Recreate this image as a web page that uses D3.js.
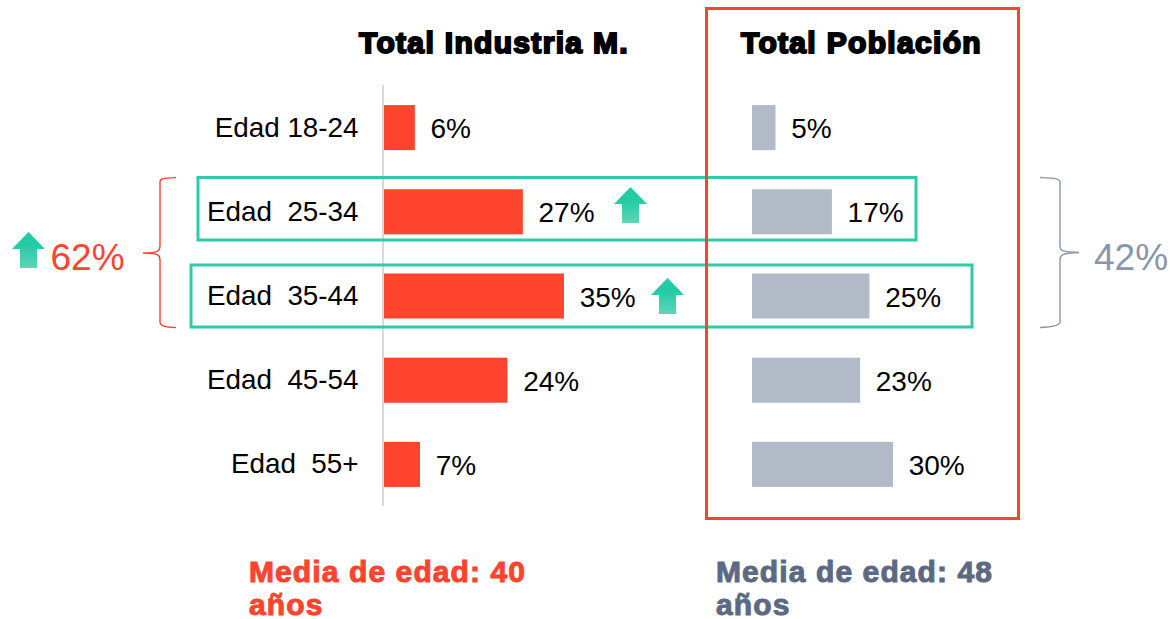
<!DOCTYPE html>
<html><head><meta charset="utf-8">
<script src="https://cdn.jsdelivr.net/npm/d3@7/dist/d3.min.js"></script>
<style>html,body{margin:0;padding:0;background:#fff;overflow:hidden}
text{font-family:"Liberation Sans",Arial,sans-serif;white-space:pre}</style></head>
<body><svg id="c" width="1170" height="619"></svg>
<script>
const categories=["Edad 18-24","Edad  25-34","Edad  35-44","Edad  45-54","Edad  55+"];
const industria=[6,27,35,24,7];
const poblacion=[5,17,25,23,30];
const titles=["Total Industria M.","Total Población"];
const RED="#ff442e",GREY="#b2bac8",GREEN="#2fcba8",SLATE="#8a95ad",DARK="#5d6983";
const svg=d3.select("#c");
const defs=svg.append("defs");
const g=defs.append("linearGradient").attr("id","up").attr("x1",0).attr("y1",0).attr("x2",0).attr("y2",1);
g.append("stop").attr("offset","35%").attr("stop-color","#22cba3");
g.append("stop").attr("offset","100%").attr("stop-color","#5ed5b8");

const y=d3.scaleBand().domain(categories).range([85.5,506.5]).paddingInner(.465).paddingOuter(.2325);
const xI=d3.scaleLinear().domain([0,35]).range([384,564]);
const xP=d3.scaleLinear().domain([0,30]).range([752,893]);
const cy=d=>y(d)+y.bandwidth()/2;

svg.append("line").attr("x1",383).attr("x2",383).attr("y1",85).attr("y2",506).attr("stroke","#d9d9d9").attr("stroke-width",2);

const axis=svg.append("g").attr("transform","translate(358.500,0)").call(d3.axisLeft(y).tickSize(0).tickPadding(0));
axis.select(".domain").remove();
axis.selectAll("text").attr("font-size",27.8).attr("fill","#000").style("font-family",'"Liberation Sans"').attr("dy","0.32em");

function series(vals,x,color){
  svg.append("g").selectAll("rect").data(vals).join("rect")
    .attr("x",x(0)).attr("y",(d,i)=>y(categories[i])).attr("width",d=>x(d)-x(0)).attr("height",y.bandwidth()).attr("fill",color);
  svg.append("g").selectAll("text").data(vals).join("text")
    .attr("x",d=>x(d)+15.7).attr("y",(d,i)=>cy(categories[i])+10.5).attr("font-size",28).attr("fill","#000").text(d=>d+"%");
}
series(industria,xI,RED);
series(poblacion,xP,GREY);

// titles
[[494,titles[0]],[861.500,titles[1]]].forEach(([cx,t])=>{
  svg.append("text").attr("x",cx).attr("y",52.500).attr("text-anchor","middle").attr("font-size",30).attr("font-weight",700)
   .attr("fill","#000").attr("stroke","#000").attr("stroke-width",2).attr("letter-spacing",1.33).text(t);
});

// frames
const frame=(x0,y0,x1,y1,c)=>svg.append("rect").attr("x",x0).attr("y",y0).attr("width",x1-x0).attr("height",y1-y0).attr("fill","none").attr("stroke",c).attr("stroke-width",3);
frame(198,177.5,916,240,GREEN);
frame(191,265,972,327,GREEN);
frame(706.5,8.5,1018.5,518.5,RED);

// arrows
function arrow(x0,y0){
  svg.append("path").attr("transform",`translate(${x0},${y0})`)
   .attr("d","M16.5 0L33 17H25V36H8V17H0Z").attr("fill","url(#up)");
}
arrow(614,187);arrow(651,278);arrow(12,232);

// braces
svg.append("path").attr("fill","none").attr("stroke",RED).attr("stroke-width",1.4)
 .attr("d","M176 177.5C165 178 160 178 160 182V246C160 251 158 253 143 253C158 253 160 255 160 260V322C160 326 165 327 176 327.5");
svg.append("path").attr("fill","none").attr("stroke",SLATE).attr("stroke-width",1.4)
 .attr("d","M1040 177.5C1051 178 1060 178 1060 182V246C1060 251 1062 252 1079 252.500C1062 253 1060 255 1060 260V322C1060 326 1051 327 1040 327.500");

svg.append("text").attr("x",50.500).attr("y",269.500).attr("font-size",37).attr("fill",RED).text("62%");
svg.append("text").attr("x",1094).attr("y",269.500).attr("font-size",37).attr("fill",SLATE).text("42%");

// footers
function foot(x,c,val){
  [["Media de edad: "+val,582],["años",615]].forEach(([t,yy])=>{
    svg.append("text").attr("x",x).attr("y",yy).attr("font-size",30).attr("font-weight",700).attr("fill",c)
      .attr("stroke",c).attr("stroke-width",1).attr("letter-spacing",1.1).text(t);
  });
}
foot(249,RED,40);foot(716,DARK,48);
</script></body></html>
